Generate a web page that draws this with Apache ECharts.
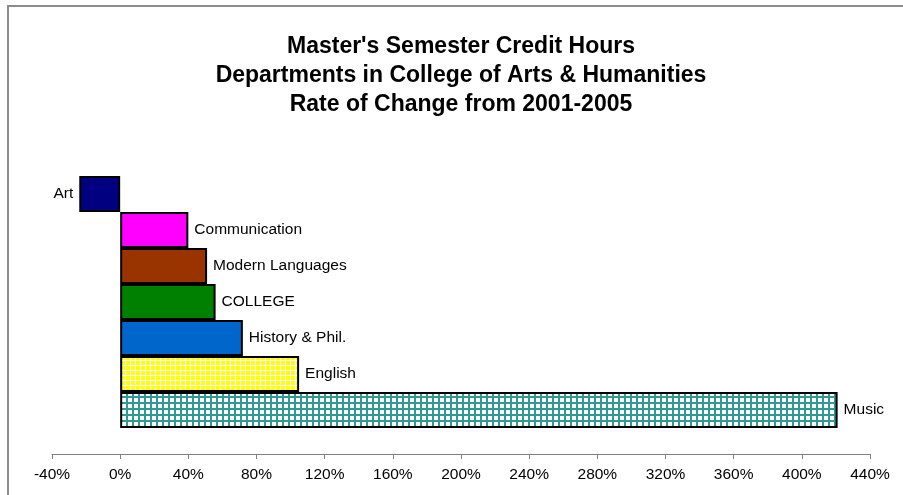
<!DOCTYPE html>
<html>
<head>
<meta charset="utf-8">
<script src="https://cdn.jsdelivr.net/npm/echarts@6/dist/echarts.min.js"></script>
<style>
  html, body { margin: 0; padding: 0; background: #fff; }
  #chart { width: 903px; height: 495px; }
</style>
</head>
<body>
<div id="chart"></div>
<script>
// data (rate of change, %)
const departments = ['Art', 'Communication', 'Modern Languages', 'COLLEGE', 'History & Phil.', 'English', 'Music'];
const rateOfChange = [-24, 40, 51, 56, 72, 105, 421];
const tickMin = -40;
const tickMax = 440;
const tickStep = 40;

const titleLines = [
  "Master's Semester Credit Hours",
  'Departments in College of Arts & Humanities',
  'Rate of Change from 2001-2005',
];

// small grid tiles like the old excel fills
const makeGrid = (bg, line, size, lw) => {
  const c = document.createElement('canvas');
  c.width = size;
  c.height = size;
  const ctx = c.getContext('2d');
  ctx.fillStyle = bg;
  ctx.fillRect(0, 0, size, size);
  ctx.fillStyle = line;
  ctx.fillRect(0, 0, lw, size);
  ctx.fillRect(0, 0, size, lw);
  return { image: c, repeat: 'repeat' };
};

const fills = [
  '#000080',
  '#ff00ff',
  '#993300',
  '#008000',
  '#0066cc',
  makeGrid('#ffff00', '#ffffff', 5, 1),
  makeGrid('#ffffff', '#2f9994', 6, 2),
];

const chart = echarts.init(document.getElementById('chart'));

chart.setOption({
  animation: false,
  textStyle: { fontFamily: 'Liberation Sans, Arial, sans-serif' },
  title: {
    text: titleLines.join('\n'),
    left: 456,
    textAlign: 'center',
    top: 27,
    textStyle: { fontSize: 23, fontWeight: 'bold', color: '#000', lineHeight: 29 },
  },
  graphic: [
    {
      type: 'rect',
      shape: { x: 8, y: 6, width: 1000, height: 1000 },
      style: { fill: 'none', stroke: '#8c8c8c', lineWidth: 2 },
      silent: true,
    },
  ],
  grid: { left: 52, right: 33, top: 176, height: 252 },
  xAxis: {
    type: 'value',
    min: tickMin,
    max: tickMax,
    interval: tickStep,
    offset: 26,
    axisLine: { show: true, lineStyle: { color: '#808080', width: 1 } },
    axisTick: { show: true, length: 5, lineStyle: { color: '#808080' } },
    splitLine: { show: false },
    axisLabel: { formatter: '{value}%', color: '#000', fontSize: 15.5, margin: 13 },
  },
  yAxis: {
    type: 'category',
    data: departments,
    inverse: true,
    axisLine: { show: false },
    axisTick: { show: false },
    axisLabel: { show: false },
  },
  series: [
    {
      type: 'bar',
      barCategoryGap: 0,
      data: rateOfChange.map((v, i) => ({
        value: v,
        itemStyle: { color: fills[i] },
        label: { position: v < 0 ? 'left' : 'right' },
      })),
      itemStyle: { borderColor: '#000', borderWidth: 2 },
      label: {
        show: true,
        distance: 6,
        color: '#000',
        fontSize: 15.5,
        formatter: (p) => p.name,
      },
    },
  ],
});
</script>
</body>
</html>
